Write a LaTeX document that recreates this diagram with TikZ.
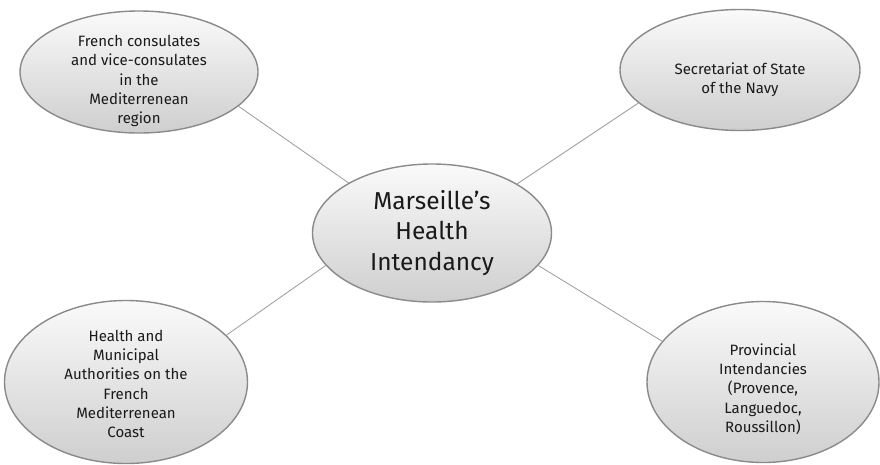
\documentclass[tikz,border=0pt]{standalone}
\usepackage{fontspec}
\setmainfont{Fira Sans}
\usetikzlibrary{shapes.geometric}
\definecolor{edgegray}{HTML}{8A8A8A}
\definecolor{linegray}{HTML}{9A9A9A}
\definecolor{txt}{HTML}{1A1A1A}
\tikzset{
  bubble/.style={ellipse, draw=edgegray, line width=1.4pt, inner sep=0pt,
    top color=white!96!gray, bottom color=gray!38},
  small/.style={align=center, text=txt, font=\fontsize{15}{19.3}\selectfont},
  big/.style={align=center, text=txt, font=\fontsize{24.5}{30.5}\selectfont},
  link/.style={draw=linegray, line width=0.8pt}
}
\begin{document}
\begin{tikzpicture}[x=1pt,y=-1pt]
\useasboundingbox (0,0) rectangle (880,464);
\node[bubble, minimum width=238pt, minimum height=122pt] (tl) at (139,72) {};
\node[bubble, minimum width=240pt, minimum height=121pt] (tr) at (740,70) {};
\node[bubble, minimum width=239pt, minimum height=138pt] (c) at (432,233) {};
\node[bubble, minimum width=243pt, minimum height=163pt] (bl) at (126,382) {};
\node[bubble, minimum width=232pt, minimum height=161pt] (br) at (763,382) {};

\node[small] (tltext) at ([yshift=-9pt]tl.center) {French consulates\\and vice-consulates\\in the\\Mediterrenean\\region};
\node[small] (trtext) at ([yshift=-10pt]tr.center) {Secretariat of State\\of the Navy};
\node[big] (ctext) at (c) {Marseille’s\\Health\\Intendancy};
\node[small] (bltext) at ([yshift=-2pt]bl.center) {Health and\\Municipal\\Authorities on the\\French\\Mediterrenean\\Coast};
\node[small] (brtext) at ([yshift=-7pt]br.center) {Provincial\\Intendancies\\(Provence,\\Languedoc,\\Roussillon)};

\path[link] (tl.-19) -- (c.149);
\path[link] (tr.198) -- (c.30);
\path[link] (bl.25) -- (c.197);
\path[link] (br.158) -- (c.-17);
\end{tikzpicture}
\end{document}
